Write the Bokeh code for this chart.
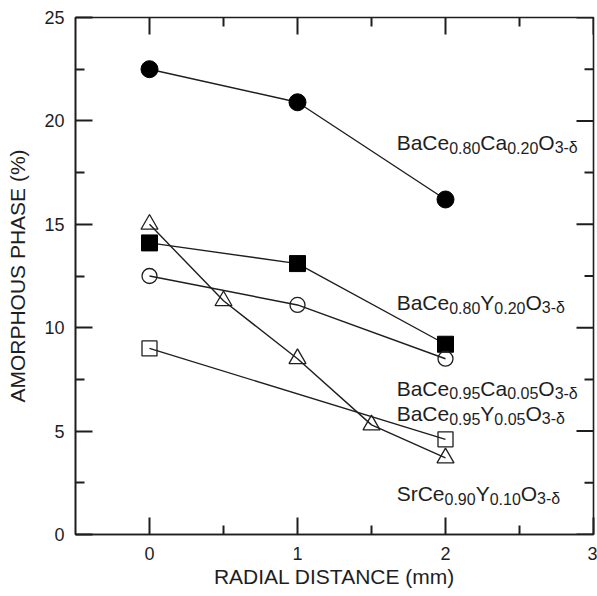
import math
from bokeh.plotting import figure
from bokeh.models import ColumnDataSource, FixedTicker, Range1d
from bokeh.embed import file_html
from bokeh.resources import INLINE
from bokeh.core.properties import value

# ---- data ----
x_three = [0, 1, 2]
ca20 = [22.5, 20.9, 16.2]          # BaCe0.80Ca0.20O3-d (filled circle)
y20 = [14.1, 13.1, 9.2]            # BaCe0.80Y0.20O3-d (filled square)
ca05 = [12.5, 11.1, 8.5]           # BaCe0.95Ca0.05O3-d (open circle)
x_y05 = [0, 2]
y05 = [9.0, 4.6]                   # BaCe0.95Y0.05O3-d (open square)
x_sr = [0, 0.5, 1, 1.5, 2]
sr = [15.0, 11.3, 8.5, 5.3, 3.7]   # SrCe0.90Y0.10O3-d (open triangle)

x_lo, x_hi = -0.5, 3
y_lo, y_hi = 0, 25
x_ticks = [0, 1, 2, 3]
x_minor = [0.5, 1.5, 2.5]
y_ticks = [0, 5, 10, 15, 20, 25]
y_minor = [2.5, 7.5, 12.5, 17.5, 22.5]

label_x = 1.67
label_y = [18.95, 11.2, 7.06, 5.85, 1.98]
label_parts = [
    [("BaCe", 0), ("0.80", 1), ("Ca", 0), ("0.20", 1), ("O", 0), ("3-δ", 1)],
    [("BaCe", 0), ("0.80", 1), ("Y", 0), ("0.20", 1), ("O", 0), ("3-δ", 1)],
    [("BaCe", 0), ("0.95", 1), ("Ca", 0), ("0.05", 1), ("O", 0), ("3-δ", 1)],
    [("BaCe", 0), ("0.95", 1), ("Y", 0), ("0.05", 1), ("O", 0), ("3-δ", 1)],
    [("SrCe", 0), ("0.90", 1), ("Y", 0), ("0.10", 1), ("O", 0), ("3-δ", 1)],
]

INK = "#1e1e1e"
FONT = "Liberation Sans"
MAIN_PX = 21
SUB_PX = 16
SUB_DROP = 5
MAJ_LEN = 17
MIN_LEN = 9
TICK_W = 2

# Arial / Liberation Sans advance widths (per 1000 em)
ADV = {"B": 667, "a": 556, "C": 722, "e": 556, "Y": 667, "O": 778, "S": 667,
       "r": 333, ".": 278, "-": 333, "δ": 556}
for d in "0123456789":
    ADV[d] = 556


def width(s, px):
    return sum(ADV.get(c, 556) for c in s) * px / 1000.0


p = figure(width=597, height=596, output_backend="svg", toolbar_location=None,
           x_range=Range1d(x_lo, x_hi), y_range=Range1d(y_lo, y_hi),
           min_border_left=75, min_border_right=4, min_border_top=17,
           min_border_bottom=62, background_fill_color="white",
           border_fill_color="white", x_axis_label="RADIAL DISTANCE (mm)",
           y_axis_label="AMORPHOUS PHASE (%)")
p.grid.visible = False
p.outline_line_color = INK
p.outline_line_width = 1.6
p.outline_line_alpha = 1.0


def style_axis(ax, major, minor):
    ax.ticker = FixedTicker(ticks=major, minor_ticks=minor)
    ax.axis_line_color = INK
    ax.axis_line_width = 1.6
    ax.major_tick_line_color = INK
    ax.major_tick_line_width = TICK_W
    ax.minor_tick_line_color = INK
    ax.minor_tick_line_width = TICK_W
    ax.major_tick_in = MAJ_LEN
    ax.major_tick_out = 0
    ax.minor_tick_in = MIN_LEN
    ax.minor_tick_out = 0
    ax.major_label_text_font = FONT
    ax.major_label_text_color = INK
    ax.major_label_text_font_size = "18px"
    ax.axis_label_text_font = FONT
    ax.axis_label_text_color = INK
    ax.axis_label_text_font_style = "normal"
    ax.axis_label_text_font_size = "21px"


style_axis(p.xaxis[0], x_ticks, x_minor)
style_axis(p.yaxis[0], y_ticks, y_minor)
p.xaxis[0].major_label_standoff = 12
p.xaxis[0].axis_label_standoff = 2
p.yaxis[0].major_label_standoff = 11
p.yaxis[0].axis_label_standoff = 12

# ---- mirrored ticks on top and right edges ----
tick_kw = dict(line_color=INK, line_width=TICK_W, length_units="screen")
p.ray(x=x_ticks, y=[y_hi] * len(x_ticks), length=MAJ_LEN, angle=-math.pi / 2, **tick_kw)
p.ray(x=x_minor, y=[y_hi] * len(x_minor), length=MIN_LEN, angle=-math.pi / 2, **tick_kw)
p.ray(x=[x_hi] * len(y_ticks), y=y_ticks, length=MAJ_LEN, angle=math.pi, **tick_kw)
p.ray(x=[x_hi] * len(y_minor), y=y_minor, length=MIN_LEN, angle=math.pi, **tick_kw)

# ---- lines ----
lw = 1.4
p.line(x_three, ca20, line_color=INK, line_width=lw)
p.line(x_three, y20, line_color=INK, line_width=lw)
p.line(x_three, ca05, line_color=INK, line_width=lw)
p.line(x_y05, y05, line_color=INK, line_width=lw)
p.line(x_sr, sr, line_color=INK, line_width=lw)

# ---- markers ----
p.scatter(x_three, ca20, marker="circle", size=17, fill_color="black", line_color="black")
p.scatter(x_three, y20, marker="square", size=16, fill_color="black", line_color="black")
p.scatter(x_three, ca05, marker="circle", size=15, fill_color=None, line_color=INK, line_width=1.3)
p.scatter(x_y05, y05, marker="square", size=15, fill_color=None, line_color=INK, line_width=1.3)
p.scatter(x_sr, sr, marker="triangle", size=17, fill_color=None, line_color=INK, line_width=1.3)

# ---- formula labels with subscripts ----
xs, ys, txt, xo, yo, fs = [], [], [], [], [], []
for parts, ly in zip(label_parts, label_y):
    off = 0.0
    for s, sub in parts:
        px = SUB_PX if sub else MAIN_PX
        xs.append(label_x)
        ys.append(ly)
        txt.append(s)
        xo.append(off)
        yo.append(SUB_DROP if sub else 0)
        fs.append(f"{px}px")
        off += width(s, px)

src = ColumnDataSource(dict(x=xs, y=ys, text=txt, xo=xo, yo=yo, fs=fs))
p.text(x="x", y="y", text="text", x_offset="xo", y_offset="yo", source=src,
       text_font=value(FONT), text_font_size="fs", text_color=INK,
       text_align="left", text_baseline="alphabetic")

open("out.html", "w").write(file_html(p, INLINE))
